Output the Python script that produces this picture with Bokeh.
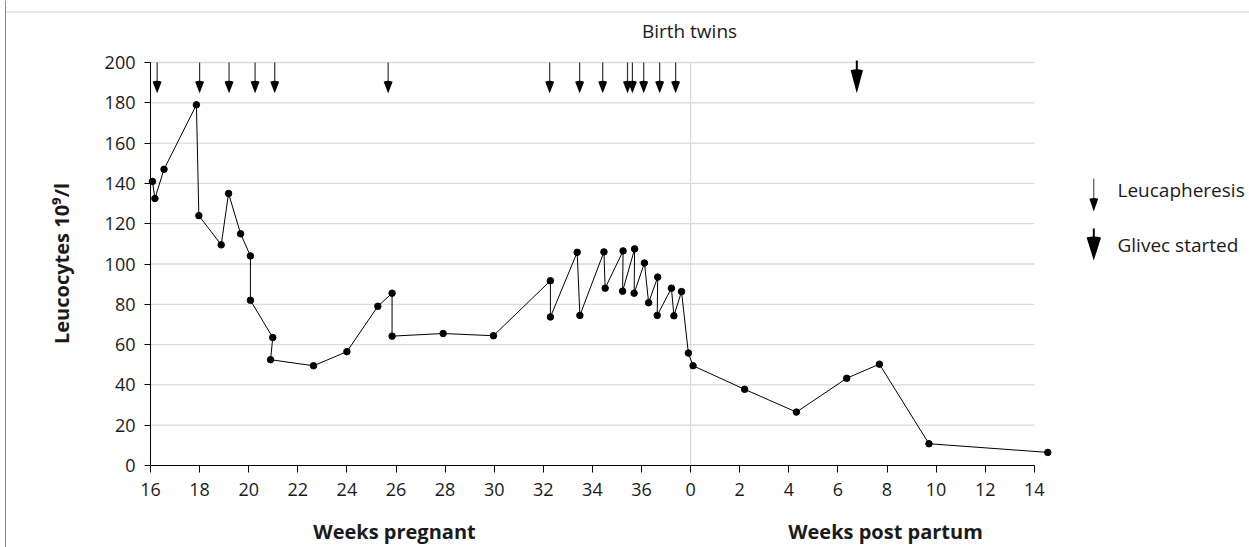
from bokeh.plotting import figure
from bokeh.models import FixedTicker, Label, ColumnDataSource, Range1d
from bokeh.embed import file_html
from bokeh.resources import INLINE

# ---------------- data ----------------
preg_weeks = [16.08, 16.18, 16.55, 17.87, 17.97, 18.88, 19.18, 19.67, 20.07, 20.07,
              20.98, 20.89, 22.64, 24.0, 25.26, 25.84, 25.84, 27.92, 29.97, 32.29,
              32.29, 33.38, 33.49, 34.47, 34.52, 35.25, 35.23, 35.72, 35.70, 36.12,
              36.29, 36.66, 36.64, 37.22, 37.32, 37.63, 37.91]
preg_leuco = [141, 132.5, 147, 179, 124, 109.5, 135, 115, 104, 82,
              63.5, 52.5, 49.5, 56.5, 79, 85.5, 64.2, 65.5, 64.4, 91.7,
              73.7, 105.8, 74.5, 106, 88, 106.5, 86.5, 107.5, 85.5, 100.5,
              80.8, 93.5, 74.5, 88, 74.3, 86.3, 55.8]
pp_weeks = [0.1, 2.2, 4.31, 6.36, 7.69, 9.71, 14.55]
pp_leuco = [49.5, 37.8, 26.5, 43.3, 50.3, 10.8, 6.5]

leucapheresis_weeks = [16.27, 18.0, 19.2, 20.26, 21.06, 25.68, 32.26, 33.48,
                       34.42, 35.43, 35.63, 36.09, 36.74, 37.39]
glivec_pp_weeks = [6.77]

preg_ticks = [16, 18, 20, 22, 24, 26, 28, 30, 32, 34, 36]
pp_ticks = [0, 2, 4, 6, 8, 10, 12, 14]
y_ticks = [0, 20, 40, 60, 80, 100, 120, 140, 160, 180, 200]

birth_week = 38          # position of "0 weeks post partum" on the continuous axis
arrow_top = 200
arrow_tip = 184.7

# ---------------- geometry (frame fills the canvas, axes at fixed locations) ----------------
W, H = 1249, 547
X0_PX, Y0_PX = 150, 465           # pixel position of (16 weeks, 0 leucocytes)
PXW = 24.55                       # pixels per week
PXH = 403 / 200                   # pixels per 10^9/l
FONT = "Open Sans"
TXT = "#1a1a1a"
GRID = "#dadada"
BASE_SHIFT = 7.3                  # label baseline correction (px)


def dx(px):
    return 16 + (px - X0_PX) / PXW


def dy(py):
    return (Y0_PX - py) / PXH


x_all = preg_weeks + [birth_week + w for w in pp_weeks]
y_all = preg_leuco + pp_leuco
src = ColumnDataSource(dict(x=x_all, y=y_all))

p = figure(width=W, height=H, output_backend="svg", toolbar_location=None,
           x_range=Range1d(dx(0), dx(W)), y_range=Range1d(dy(H), dy(0)),
           min_border=0, outline_line_color=None)
p.xgrid.visible = False
p.ygrid.visible = False

# page decorations (dotted rule at the top, border at the left)
p.segment(x0=[dx(5)], y0=[dy(11.5)], x1=[dx(W)], y1=[dy(11.5)],
          line_color="#9a9a9a", line_width=1, line_dash="1 1")
p.segment(x0=[dx(5)], y0=[dy(0)], x1=[dx(5)], y1=[dy(H)],
          line_color="#8a8a8a", line_width=1)

# horizontal grid lines (stop at the end of the x axis)
gy = [t for t in y_ticks if t > 0]
p.segment(x0=[16] * len(gy), y0=gy, x1=[birth_week + pp_ticks[-1]] * len(gy), y1=gy,
          line_color=GRID, line_width=1.3)
# birth line
p.segment(x0=[birth_week], y0=[0], x1=[birth_week], y1=[y_ticks[-1]],
          line_color=GRID, line_width=1.3)

# data
p.line("x", "y", source=src, line_color="black", line_width=1)
p.scatter("x", "y", source=src, size=6.5, fill_color="black", line_color="black")


def head(xs, ys, r, half):
    p.wedge(x=xs, y=ys, radius=r, radius_units="screen",
            start_angle=90 - half, end_angle=90 + half,
            start_angle_units="deg", end_angle_units="deg",
            fill_color="black", line_color=None)


# leucapheresis arrows
lx = leucapheresis_weeks
p.segment(x0=lx, y0=[arrow_top] * len(lx), x1=lx, y1=[arrow_tip + 3] * len(lx),
          line_color="#333333", line_width=1.2)
head(lx, [arrow_tip] * len(lx), 12.5, 21)
# Glivec arrow
gx = [birth_week + w for w in glivec_pp_weeks]
p.segment(x0=gx, y0=[arrow_top + 1], x1=gx, y1=[arrow_tip + 5],
          line_color="black", line_width=2)
head(gx, [arrow_tip], 24, 15)

# ---------------- legend ----------------
lgx = dx(1093.3)
p.segment(x0=[lgx], y0=[dy(178)], x1=[lgx], y1=[dy(202)], line_color="#333333", line_width=1)
head([lgx], [dy(211)], 13.5, 19)
p.segment(x0=[lgx], y0=[dy(228)], x1=[lgx], y1=[dy(245)], line_color="black", line_width=2)
head([lgx], [dy(260)], 24, 17.5)


def label(text, px, py, size, align="left", bold=False, angle=0):
    if angle:
        px -= BASE_SHIFT
    else:
        py -= BASE_SHIFT
    p.add_layout(Label(text=text, x=dx(px), y=dy(py), text_font=FONT,
                       text_font_size=size, text_color=TXT, text_align=align,
                       text_baseline="alphabetic", angle=angle, angle_units="deg",
                       text_font_style="bold" if bold else "normal"))


label("Leucapheresis", 1117, 196.7, "19px")
label("Glivec started", 1117, 251.7, "19px")
label("Birth twins", 689, 37.5, "19px", align="center")
label("Weeks pregnant", 394, 538.3, "20px", align="center", bold=True)
label("Weeks post partum", 885, 538.3, "20px", align="center", bold=True)
label("Leucocytes 10⁹/l", 68, 263, "20px", align="center", bold=True, angle=90)

# ---------------- axes ----------------
xt = preg_ticks + [birth_week + t for t in pp_ticks]
p.xaxis.ticker = FixedTicker(ticks=xt)
overrides = {t: str(t) for t in preg_ticks}
overrides.update({birth_week + t: str(t) for t in pp_ticks})
p.xaxis.major_label_overrides = overrides
p.xaxis.bounds = (16, birth_week + pp_ticks[-1])
p.xaxis.fixed_location = 0
p.xaxis.major_tick_out = 7
p.xaxis.major_tick_in = 0
p.xaxis.minor_tick_line_color = None
p.xaxis.major_label_standoff = 10

p.yaxis.ticker = FixedTicker(ticks=y_ticks)
p.yaxis.bounds = (0, 200)
p.yaxis.fixed_location = 16
p.yaxis.major_tick_out = 6
p.yaxis.major_tick_in = 0
p.yaxis.minor_tick_line_color = None
p.yaxis.major_label_standoff = 9

for ax in (p.xaxis, p.yaxis):
    ax.axis_line_color = "black"
    ax.axis_line_width = 1
    ax.major_tick_line_color = "black"
    ax.major_label_text_font = FONT
    ax.major_label_text_font_size = "18px"
    ax.major_label_text_color = TXT

open("out.html", "w").write(file_html(p, INLINE))
